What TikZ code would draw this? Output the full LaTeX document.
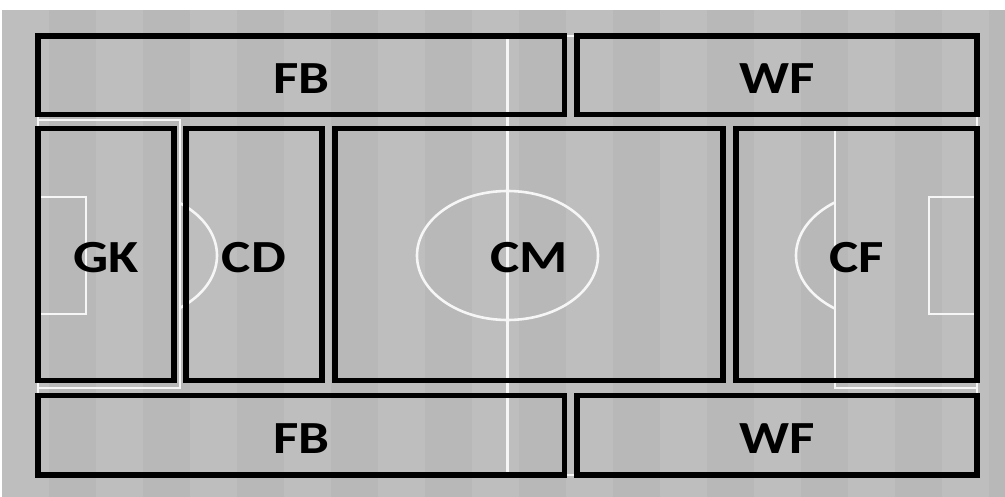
\documentclass[tikz,border=0pt]{standalone}
\usepackage{fontspec}
\newfontfamily\lblfont{Carlito}[FakeStretch=1.2]
\definecolor{grassA}{HTML}{B8B8B8}
\definecolor{grassB}{HTML}{BEBEBE}
\definecolor{chalk}{HTML}{F6F6F6}
\tikzset{
  zone/.style={draw=black, line width=5.5pt, rectangle, inner sep=0pt,
    font=\lblfont\bfseries\fontsize{46}{46}\selectfont, text height=36pt, text depth=0pt},
  chalkline/.style={draw=chalk, line width=2.6pt}
}
\begin{document}
\begin{tikzpicture}[x=1pt,y=-1pt]
\useasboundingbox (0,0) rectangle (1005,497);
\fill[white] (0,0) rectangle (1005,497);
\fill[grassA] (2,10) rectangle (1005,497);
\foreach \s in {0,2,...,20}{
  \fill[grassB] ({2+\s*47},10) rectangle ({min(1005,2+(\s+1)*47)},497);
}
% pitch markings
\draw[chalkline] (38,36) rectangle (977,475);
\draw[chalkline] (507.5,36) -- (507.5,475);
\draw[chalkline] (507.5,255.5) ellipse [x radius=90.5, y radius=64.5];
\draw[chalkline] (38,120) -- (180,120) -- (180,388) -- (38,388);
\draw[chalkline] (977,127) -- (835,127) -- (835,388) -- (977,388);
\draw[chalkline] (38,197) -- (86,197) -- (86,314) -- (38,314);
\draw[chalkline] (977,197) -- (929,197) -- (929,314) -- (977,314);
\begin{scope}
  \clip (180,0) rectangle (400,497);
  \draw[chalkline] (126,255.5) ellipse [x radius=91, y radius=65];
\end{scope}
\begin{scope}
  \clip (600,0) rectangle (835,497);
  \draw[chalkline] (888,255.5) ellipse [x radius=92, y radius=65];
\end{scope}
% zones
\node[zone, minimum width=526.5pt, minimum height=78.5pt] (fbtop) at (301.25,75.25) {FB};
\node[zone, minimum width=400pt, minimum height=78.5pt] (wftop) at (777,75.25) {WF};
\node[zone, minimum width=136pt, minimum height=252pt] (gk) at (106,254.5) {GK};
\node[zone, minimum width=136pt, minimum height=252pt] (cd) at (254,254.5) {CD};
\node[zone, minimum width=388pt, minimum height=252pt] (cm) at (529,254.5) {CM};
\node[zone, minimum width=241pt, minimum height=252pt] (cf) at (856.5,254.5) {CF};
\node[zone, minimum width=526.5pt, minimum height=79.5pt] (fbbot) at (301.25,435.25) {FB};
\node[zone, minimum width=400pt, minimum height=79.5pt] (wfbot) at (777,435.25) {WF};
\end{tikzpicture}
\end{document}
